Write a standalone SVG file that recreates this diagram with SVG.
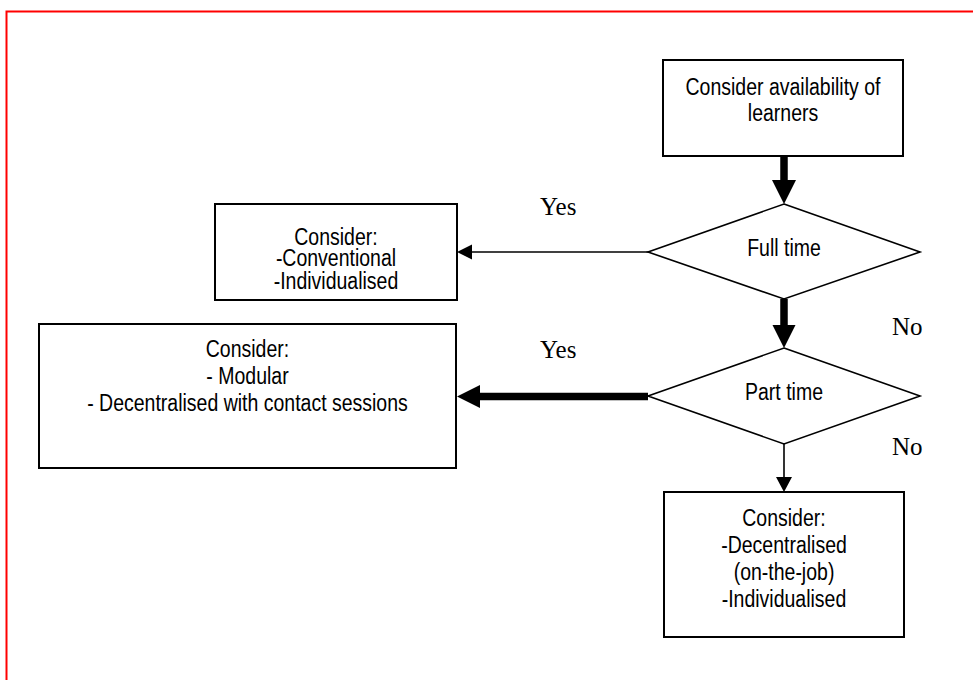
<svg xmlns="http://www.w3.org/2000/svg" width="973" height="680" viewBox="0 0 973 680">
  <style>
    .box { fill: #ffffff; stroke: #000000; stroke-width: 2; }
    .dia { fill: #ffffff; stroke: #000000; stroke-width: 1.6; }
    .lbl { font-family: "Liberation Sans", Arial, sans-serif; font-size: 19.5px; fill: #000000; text-anchor: middle; }
    .yn { font-family: "Liberation Serif", "Times New Roman", serif; font-size: 25px; fill: #000000; }
    .thin { stroke: #000000; stroke-width: 1.6; fill: none; }
    .thick { stroke: #000000; stroke-width: 7.5; fill: none; }
    .head { fill: #000000; stroke: none; }
  </style>
  <defs>
    <!-- the small option box cuts its last line off -->
    <clipPath id="clip-box1">
      <rect x="215" y="204" width="242" height="85"/>
    </clipPath>
  </defs>

  <rect width="973" height="680" fill="#ffffff"/>
  <!-- page frame -->
  <rect x="6.5" y="11.5" width="1000" height="700" fill="none" stroke="#ff0000" stroke-width="2"/>

  <g id="connectors">
    <!-- start box to Full time -->
    <line class="thick" x1="784" y1="156" x2="784" y2="181"/>
    <polygon class="head" points="772,180 796,180 784,204"/>
    <!-- Full time: Yes -->
    <line class="thin" x1="648" y1="252" x2="470" y2="252"/>
    <polygon class="head" points="472,244.5 472,259.5 457,252"/>
    <!-- Full time: No -->
    <line class="thick" x1="784" y1="299" x2="784" y2="326"/>
    <polygon class="head" points="772.5,325 795.5,325 784,348"/>
    <!-- Part time: Yes -->
    <line class="thick" x1="648" y1="396.5" x2="479" y2="396.5"/>
    <polygon class="head" points="480,385 480,408 457,396.5"/>
    <!-- Part time: No -->
    <line class="thin" x1="784" y1="444" x2="784" y2="479"/>
    <polygon class="head" points="776,477 792,477 784,492"/>
  </g>

  <g id="start">
    <rect class="box" x="663" y="60" width="240" height="96"/>
    <g transform="translate(783,95) scale(1,1.18)">
      <text class="lbl" x="0" y="0">Consider availability of</text>
      <text class="lbl" x="0" y="22">learners</text>
    </g>
  </g>

  <g id="full-time">
    <polygon class="dia" points="784,204 920,252 784,299 648,252"/>
    <g transform="translate(784,256) scale(1,1.18)">
      <text class="lbl" x="0" y="0">Full time</text>
    </g>
  </g>

  <g id="part-time">
    <polygon class="dia" points="784,348 920,396 784,444 648,396"/>
    <g transform="translate(784,400) scale(1,1.18)">
      <text class="lbl" x="0" y="0">Part time</text>
    </g>
  </g>

  <g id="option-full">
    <rect class="box" x="215" y="204" width="242" height="96"/>
    <g clip-path="url(#clip-box1)">
      <g transform="translate(336,245) scale(1,1.18)">
        <text class="lbl" x="0" y="0">Consider:</text>
        <text class="lbl" x="0" y="17.8">-Conventional</text>
        <text class="lbl" x="0" y="37.3">-Individualised</text>
      </g>
    </g>
  </g>

  <g id="option-part">
    <rect class="box" x="39" y="324" width="417" height="144"/>
    <g transform="translate(247.5,357) scale(1,1.18)">
      <text class="lbl" x="0" y="0">Consider:</text>
      <text class="lbl" x="0" y="22.9">- Modular</text>
      <text class="lbl" x="0" y="45.8">- Decentralised with contact sessions</text>
    </g>
  </g>

  <g id="option-other">
    <rect class="box" x="664" y="492" width="240" height="145"/>
    <g transform="translate(784,526) scale(1,1.18)">
      <text class="lbl" x="0" y="0">Consider:</text>
      <text class="lbl" x="0" y="22.9">-Decentralised</text>
      <text class="lbl" x="0" y="45.8">(on-the-job)</text>
      <text class="lbl" x="0" y="68.6">-Individualised</text>
    </g>
  </g>

  <g id="branch-labels">
    <text class="yn" x="540" y="215">Yes</text>
    <text class="yn" x="540" y="358">Yes</text>
    <text class="yn" x="892" y="335">No</text>
    <text class="yn" x="892" y="455">No</text>
  </g>
</svg>
